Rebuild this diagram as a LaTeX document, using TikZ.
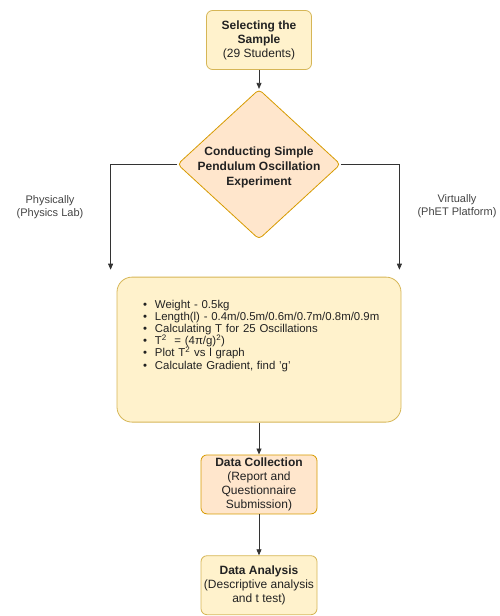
\documentclass[tikz,border=0pt]{standalone}
\usepackage{fontspec}
\setmainfont{Liberation Sans}
\usepackage{xcolor}
\usepackage{tikz}
\usetikzlibrary{
  arrows.meta,
  positioning,
  shapes.geometric
}
\definecolor{peachfill}{HTML}{FFE6CC}
\definecolor{peachdraw}{HTML}{D79B00}
\definecolor{yellowfill}{HTML}{FFF2CC}
\definecolor{yellowdraw}{HTML}{D6B656}
\definecolor{textgrey}{HTML}{222222}
\definecolor{labelgrey}{HTML}{444444}
\definecolor{linegrey}{HTML}{333333}
\tikzset{
  stagebox/.style={
    rectangle, rounded corners=6pt, draw=#1draw, fill=#1fill,
    minimum width=116pt, minimum height=59pt, align=center,
    inner xsep=1pt, inner ysep=0pt, text=textgrey,
    font=\fontsize{12}{14}\selectfont, line width=0.8pt
  },
  decisionbox/.style={
    diamond, rounded corners=4pt, draw=peachdraw, fill=peachfill,
    minimum width=163pt, minimum height=150pt, inner sep=0pt,
    line width=0.8pt
  },
  listbox/.style={
    rectangle, rounded corners=15pt, draw=yellowdraw, fill=yellowfill,
    minimum width=284pt, minimum height=145pt, text width=244pt,
    inner xsep=20pt, inner ysep=0pt, align=left, text=textgrey,
    font=\fontsize{11.4}{12.2}\selectfont, line width=0.8pt
  },
  routelabel/.style={
    align=center, text=labelgrey, font=\fontsize{11}{13}\selectfont
  },
  arrowline/.style={
    -{Triangle[length=6pt,width=5pt]}, line width=0.8pt, color=linegrey
  },
}
\newcommand{\steptitle}[1]{\textbf{#1}}
\newcommand{\listitem}[1]{\hspace*{6pt}\textbullet\hspace{8pt}#1}

\begin{document}
\begin{tikzpicture}[x=1pt, y=-1pt]
  \useasboundingbox (0,0) rectangle (499,616);

  \node[stagebox=yellow, minimum width=105pt] (sample) at (259,40)
    {\steptitle{Selecting the}\\\steptitle{Sample}\\(29 Students)};
  \node[decisionbox, below=19pt of sample,
        label={[align=center, text=textgrey, yshift=-3pt,
                font=\bfseries\fontsize{12}{15}\selectfont]center:Conducting Simple\\Pendulum Oscillation\\Experiment}]
    (expt) {};
  \node[listbox, below=37pt of expt] (proc) {%
    \listitem{Weight - 0.5kg}\\
    \listitem{Length(l) - 0.4m/0.5m/0.6m/0.7m/0.8m/0.9m}\\
    \listitem{Calculating T for 25 Oscillations}\\
    \listitem{T\textsuperscript{2} \ = (4π/g)\textsuperscript{2})}\\
    \listitem{Plot T\textsuperscript{2} vs l graph}\\
    \listitem{Calculate Gradient, find 'g'}\par\vspace{28pt}};
  \node[stagebox=peach, below=32pt of proc] (collect)
    {\steptitle{Data Collection}\\(Report and\\Questionnaire\\Submission)};
  \node[stagebox=yellow, below=41pt of collect] (analyse)
    {\steptitle{Data Analysis}\\(Descriptive analysis\\and t test)};

  \node[routelabel] (phys) at (50,207) {Physically\\(Physics Lab)};
  \node[routelabel] (virt) at (457,206) {Virtually\\(PhET Platform)};

  \coordinate (physend) at ([xshift=-6pt, yshift=7pt]proc.north west);
  \coordinate (virtend) at ([xshift=-2pt, yshift=7pt]proc.north east);

  \draw[arrowline] (sample) -- (expt);
  \draw[arrowline] (expt.west) -| (physend);
  \draw[arrowline] (expt.east) -| (virtend);
  \draw[arrowline] (proc) -- (collect);
  \draw[arrowline] (collect) -- (analyse);
\end{tikzpicture}
\end{document}
